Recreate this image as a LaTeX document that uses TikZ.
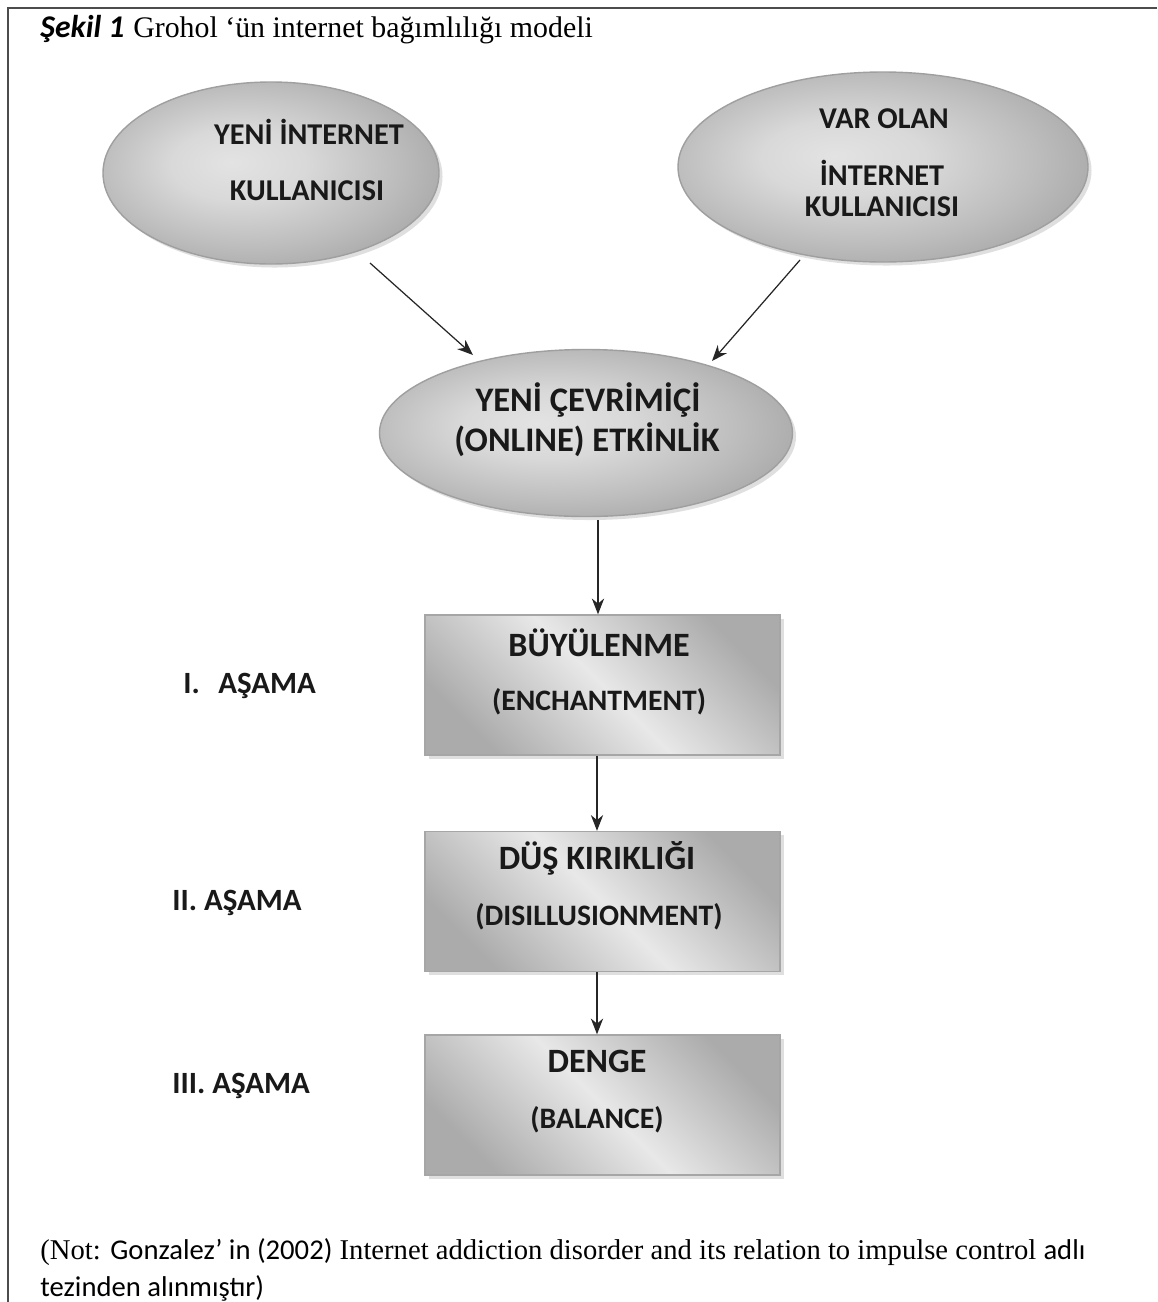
\documentclass[tikz,border=0pt]{standalone}
\usepackage{fontspec}
\setmainfont{Liberation Serif}
\newfontfamily\calib{Carlito}
\usetikzlibrary{shapes.geometric,arrows.meta,shadows}
\pgfdeclareradialshading{ellshade}{\pgfpoint{-6bp}{3bp}}{color(0bp)=(gray!22); color(10bp)=(gray!30); color(22bp)=(gray!52); color(28bp)=(gray!64); color(50bp)=(gray!64)}
\tikzset{
  ell/.style={ellipse, draw=gray!75, line width=0.8pt, shading=ellshade, inner sep=0pt,
     drop shadow={opacity=0.25, shadow xshift=2pt, shadow yshift=-2pt}},
  stagebox/.style={rectangle, draw=gray!70, line width=0.8pt, inner sep=0pt,
     top color=gray!66, bottom color=gray!66, middle color=gray!18, shading angle=-45,
     minimum width=355*0.02cm, minimum height=140*0.02cm,
     drop shadow={opacity=0.25, shadow xshift=2pt, shadow yshift=-2pt}},
  big/.style={font=\calib\bfseries\fontsize{17.2}{17.2}\selectfont, text=black!90, inner sep=0pt},
  mid/.style={font=\calib\bfseries\fontsize{19.6}{19.6}\selectfont, text=black!90, inner sep=0pt},
  boxhead/.style={font=\calib\bfseries\fontsize{19.4}{19.4}\selectfont, text=black!90, inner sep=0pt},
  boxsub/.style={font=\calib\bfseries\fontsize{16.9}{16.9}\selectfont, text=black!90, inner sep=0pt},
  stage/.style={font=\calib\bfseries\fontsize{17.6}{17.6}\selectfont, text=black!90, inner sep=0pt, anchor=west},
  arr/.style={-{Stealth[length=9pt,width=7pt]}, line width=0.7pt, black!85},
}
\begin{document}
\begin{tikzpicture}[x=0.02cm,y=-0.02cm]
\useasboundingbox (0,0) rectangle (1157,1302);
\fill[white] (0,0) rectangle (1157,1302);
% frame
\draw[line width=1.2pt, black!70] (1157,8) -- (8,8) -- (8,1302);
% title
\node[anchor=west, inner sep=0pt] (title) at (40,30) {{\calib\bfseries\itshape\fontsize{18}{18}\selectfont Şekil 1}\hspace{0.5em}{\fontsize{17}{17}\selectfont Grohol ‘ün internet bağımlılığı modeli}};
% ellipses
\node[ell, minimum width=336*0.02cm, minimum height=182*0.02cm] (e1) at (271,173) {};
\node[ell, minimum width=410*0.02cm, minimum height=190*0.02cm] (e2) at (883,167) {};
\node[ell, minimum width=413*0.02cm, minimum height=167*0.02cm] (e3) at (586,433) {};
\node[big] (e1a) at (309,132) {YENİ İNTERNET};
\node[big] (e1b) at (307,191) {KULLANICISI};
\node[big] (e2a) at (884,119) {VAR OLAN};
\node[big] (e2b) at (882,173) {İNTERNET};
\node[big] (e2c) at (882,207) {KULLANICISI};
\node[mid] (e3a) at (588,400) {YENİ ÇEVRİMİÇİ};
\node[mid] (e3b) at (587,440) {(ONLINE) ETKİNLİK};
% boxes
\node[stagebox] (b1) at (602.5,685) {};
\node[stagebox] (b2) at (602.5,901.5) {};
\node[stagebox] (b3) at (602.5,1105) {};
\node[boxhead] (b1a) at (599,643) {BÜYÜLENME};
\node[boxsub] (b1b) at (599,702) {(ENCHANTMENT)};
\node[boxhead] (b2a) at (597,858) {DÜŞ KIRIKLIĞI};
\node[boxsub] (b2b) at (599,917) {(DISILLUSIONMENT)};
\node[boxhead] (b3a) at (597,1061) {DENGE};
\node[boxsub] (b3b) at (597,1120) {(BALANCE)};
% stage labels
\node[stage] (s1) at (183,686) {I.\hspace{0.6em}AŞAMA};
\node[stage] (s2) at (172,903) {II. AŞAMA};
\node[stage] (s3) at (172,1086) {III. AŞAMA};
% connectors
\coordinate (p1) at (370,263);
\coordinate (q1) at (473,355);
\coordinate (p2) at (800,260);
\coordinate (q2) at (712,361);
\draw[arr] (p1) -- (q1);
\draw[arr] (p2) -- (q2);
\draw[arr] (e3.south -| 598,0) ++(0,3) -- (b1.north -| 598,0);
\draw[arr] (b1.south -| 597,0) -- (b2.north -| 597,0);
\draw[arr] (b2.south -| 597,0) -- (b3.north -| 597,0);
% note
\node[anchor=west, inner sep=0pt] (note1) at (40,1252) {\fontsize{16.3}{16.3}\selectfont (Not: {\calib Gonzalez’ in (2002)} Internet addiction disorder and its relation to impulse control {\calib adlı}};
\node[anchor=west, inner sep=0pt] (note2) at (40,1288) {\fontsize{16.3}{16.3}\selectfont{\calib tezinden alınmıştır)}};
\end{tikzpicture}
\end{document}
